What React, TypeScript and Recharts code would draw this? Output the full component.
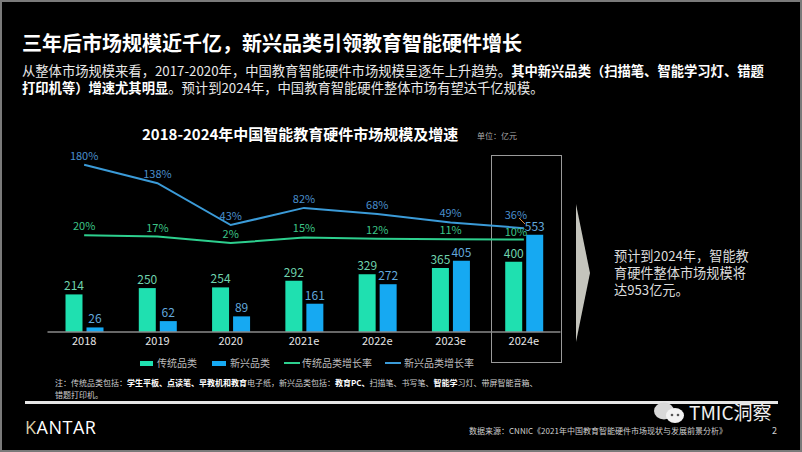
import React from 'react';
import { ComposedChart, Bar, Line, XAxis, YAxis, LabelList } from 'recharts';

// 年份与数值（单位：亿元 / %）
const years = ['2018', '2019', '2020', '2021e', '2022e', '2023e', '2024e'];
const traditional = [214, 250, 254, 292, 329, 365, 400];
const emerging = [26, 62, 89, 161, 272, 405, 553];
const traditionalGrowth = [20, 17, 2, 15, 12, 11, 10];
const emergingGrowth = [180, 138, 43, 82, 68, 49, 36];

const data = years.map((year, i) => ({
  year,
  traditional: traditional[i],
  emerging: emerging[i],
  traditionalGrowth: traditionalGrowth[i],
  emergingGrowth: emergingGrowth[i],
}));

const FONT = "'Noto Sans CJK SC', 'Noto Sans', sans-serif";
const C_TRAD = '#1fe0b0';
const C_NEW = '#16a9f2';
const C_TRAD_LINE = '#2dcf8e';
const C_NEW_LINE = '#3b9bd8';

// 百分比标签，最后一个点往左挪一点
const rateLabel = (color: string, lastDy: number) => (props: any) => {
  const { x, y, value, index } = props;
  const last = index === years.length - 1;
  return (
    <text x={x + (last ? -8 : 0)} y={y - 5 + (last ? lastDy : 0)} textAnchor="middle" fill={color} fontSize={11} fontFamily={FONT}>
      {`${value}%`}
    </text>
  );
};

const abs = (style: React.CSSProperties): React.CSSProperties => ({ position: 'absolute', ...style });

const noteLines = ['预计到2024年，智能教', '育硬件整体市场规模将', '达953亿元。'];

export default function App() {
  return (
    <div style={{ position: 'absolute', left: 0, top: 0, width: 802, height: 452, background: '#000', overflow: 'hidden', fontFamily: FONT }}>
      {/* 标题 */}
      <div style={abs({ left: 22, top: 30, fontSize: 20, fontWeight: 700, color: '#fff', whiteSpace: 'nowrap', lineHeight: '26px' })}>
        三年后市场规模近千亿，新兴品类引领教育智能硬件增长
      </div>
      <div style={abs({ left: 22, top: 62, fontSize: 13.3, color: '#e8e8e8', lineHeight: '17px', whiteSpace: 'nowrap' })}>
        从整体市场规模来看，2017-2020年，中国教育智能硬件市场规模呈逐年上升趋势。<b style={{ color: '#fff' }}>其中新兴品类（扫描笔、智能学习灯、错题</b>
        <br />
        <b style={{ color: '#fff' }}>打印机等）增速尤其明显</b>。预计到2024年，中国教育智能硬件整体市场有望达千亿规模。
      </div>

      {/* 图表标题 */}
      <div style={abs({ left: 142, top: 124, fontSize: 15, fontWeight: 700, color: '#fff', whiteSpace: 'nowrap', lineHeight: '20px' })}>
        2018-2024年中国智能教育硬件市场规模及增速
      </div>
      <div style={abs({ left: 477, top: 130, fontSize: 8, color: '#aaa', whiteSpace: 'nowrap', lineHeight: '12px' })}>单位：亿元</div>

      {/* 2024e 方框 */}
      <div style={abs({ left: 491, top: 155, width: 71, height: 208, border: '1.5px solid #9a9a9a', boxSizing: 'border-box' })} />

      <div style={abs({ left: 0, top: 120 })}>
        <ComposedChart width={600} height={242} data={data} margin={{ top: 10, right: 39.5, left: 47.5, bottom: 0 }} barSize={17} barGap={4}>
          <XAxis
            dataKey="year"
            height={30}
            axisLine={{ stroke: '#8a8a8a', strokeWidth: 1.5 }}
            tickLine={false}
            tickSize={3}
            tick={{ fill: '#e6e6e6', fontSize: 11, fontFamily: FONT }}
          />
          <YAxis yAxisId="value" hide domain={[0, 1150]} />
          <YAxis yAxisId="rate" hide domain={[-200, 259]} />
          <Bar yAxisId="value" dataKey="traditional" fill={C_TRAD} isAnimationActive={false}>
            <LabelList dataKey="traditional" position="top" offset={4} fill="#6fd3ad" fontSize={12} fontFamily={FONT} />
          </Bar>
          <Bar yAxisId="value" dataKey="emerging" fill={C_NEW} isAnimationActive={false}>
            <LabelList dataKey="emerging" position="top" offset={4} fill="#62a8dc" fontSize={12} fontFamily={FONT} />
          </Bar>
          <Line yAxisId="rate" type="linear" dataKey="traditionalGrowth" stroke={C_TRAD_LINE} strokeWidth={2} dot={false} isAnimationActive={false}>
            <LabelList dataKey="traditionalGrowth" content={rateLabel('#3cc487', 1)} />
          </Line>
          <Line yAxisId="rate" type="linear" dataKey="emergingGrowth" stroke={C_NEW_LINE} strokeWidth={2} dot={false} isAnimationActive={false}>
            <LabelList dataKey="emergingGrowth" content={rateLabel('#4a8fcc', -4)} />
          </Line>
        </ComposedChart>
      </div>

      {/* 36% 引线 + 箭头 */}
      <svg style={abs({ left: 0, top: 0, pointerEvents: 'none' })} width={802} height={452}>
        <line x1={519} y1={218} x2={525} y2={224} stroke="#d9863a" strokeWidth={1} />
        <polygon points="576,204 590,273 576,342" fill="#c4c4bc" />
      </svg>

      {/* 图例 */}
      <div style={abs({ left: 140, top: 356, display: 'flex', alignItems: 'center', fontSize: 10, color: '#bdbdbd', whiteSpace: 'nowrap', lineHeight: '14px' })}>
        <span style={{ width: 13, height: 5, background: C_TRAD, display: 'inline-block', marginRight: 4 }} />
        <span style={{ marginRight: 15 }}>传统品类</span>
        <span style={{ width: 14, height: 5, background: C_NEW, display: 'inline-block', marginRight: 4 }} />
        <span style={{ marginRight: 14 }}>新兴品类</span>
        <span style={{ width: 16, height: 2, background: C_TRAD_LINE, display: 'inline-block', marginRight: 2 }} />
        <span style={{ marginRight: 13 }}>传统品类增长率</span>
        <span style={{ width: 16, height: 2, background: C_NEW_LINE, display: 'inline-block', marginRight: 3 }} />
        <span>新兴品类增长率</span>
      </div>

      {/* 注释 */}
      <div style={abs({ left: 55, top: 377, fontSize: 8, color: '#cfcfcf', lineHeight: '12px', whiteSpace: 'nowrap' })}>
        注：传统品类包括：<b style={{ color: '#fff' }}>学生平板、点读笔、早教机和教育</b>电子纸，新兴品类包括：<b style={{ color: '#fff' }}>教育PC、</b>扫描笔、书写笔、<b style={{ color: '#fff' }}>智能学</b>习灯、带屏智能音箱、
        <br />
        错题打印机。
      </div>

      <div style={abs({ left: 25, top: 401, width: 753, height: 2.5, background: '#e6e6e6' })} />

      {/* 右侧说明 */}
      {noteLines.map((t, i) => (
        <div key={t} style={abs({ left: 614, top: 248 + i * 16.8, fontSize: 13.2, color: '#dcdcdc', lineHeight: '16px', whiteSpace: 'nowrap' })}>
          {t}
        </div>
      ))}

      {/* 底部 */}
      <div style={abs({ left: 25, top: 415, fontSize: 18, color: '#fff', letterSpacing: 0.5, lineHeight: '24px', fontFamily: "'Open Sans', sans-serif" })}>
        <span style={{ color: '#d8c9a0' }}>K</span>ANTAR
      </div>
      <svg style={abs({ left: 652, top: 400 })} width={36} height={24}>
        <ellipse cx={12} cy={11} rx={10} ry={8.5} fill="#d8d8d8" />
        <ellipse cx={23} cy={15.5} rx={9} ry={7.5} fill="#f2f2f2" />
        <circle cx={20} cy={15} r={1.3} fill="#555" />
        <circle cx={26} cy={15} r={1.3} fill="#555" />
      </svg>
      <div style={abs({ left: 689, top: 401, fontSize: 19, color: '#f0f0f0', lineHeight: '22px', whiteSpace: 'nowrap' })}>TMIC洞察</div>
      <div style={abs({ left: 469, top: 425, fontSize: 8, color: '#cfcfcf', lineHeight: '11px', whiteSpace: 'nowrap' })}>
        数据来源：CNNIC《2021年中国教育智能硬件市场现状与发展前景分析》
      </div>
      <div style={abs({ left: 772, top: 425, fontSize: 9, color: '#cfcfcf', lineHeight: '11px' })}>2</div>

      {/* 外框 */}
      <div style={abs({ left: 0, top: 0, width: 802, height: 452, border: '2px solid #7a7a7a', boxSizing: 'border-box', pointerEvents: 'none' })} />
    </div>
  );
}
